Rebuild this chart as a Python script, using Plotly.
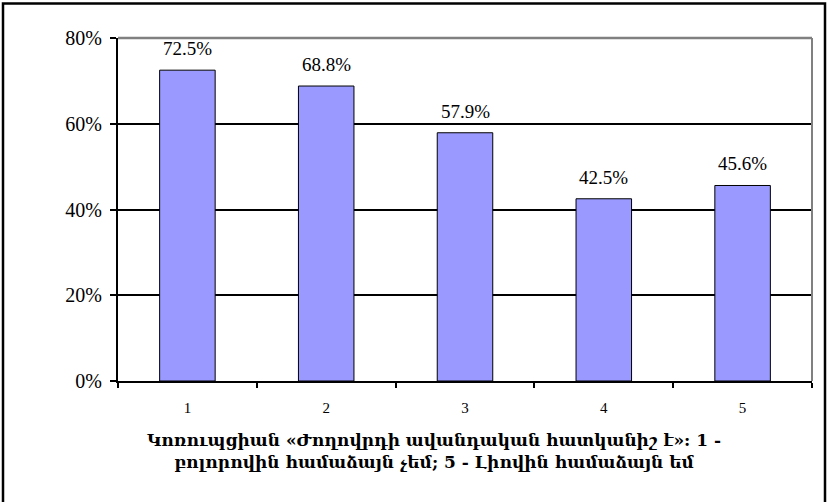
import plotly.graph_objects as go

categories = ["1", "2", "3", "4", "5"]
values = [72.5, 68.8, 57.9, 42.5, 45.6]
y_ticks = [0, 20, 40, 60, 80]
y_tick_labels = ["0%", "20%", "40%", "60%", "80%"]
x_title = ("Կոռուպցիան «Ժողովրդի ավանդական հատկանիշ է»: 1 -<br>"
           "բոլորովին համաձայն չեմ; 5 - Լիովին համաձայն եմ")

serif = "Liberation Serif"
arm_serif = "DejaVu Serif"

# plot area in pixels: x 118..812, y 37.5..381.5
def px_x(p):
    return (p - 118) / 694

def px_y(p):
    return (381.5 - p) / 344

fig = go.Figure(
    go.Bar(
        x=categories,
        y=values,
        marker=dict(color="#9999FF", line=dict(color="black", width=1)),
        width=0.4,
        hoverinfo="x+y",
    )
)

# value labels above the bars (category axis -> use the category index)
labels = [
    dict(x=i, y=v, text=f"{v:.1f}%", xref="x", yref="y",
         yanchor="bottom", yshift=9, showarrow=False,
         font=dict(family=serif, size=19, color="black"))
    for i, v in enumerate(values)
]

fig.update_layout(
    width=828,
    height=502,
    margin=dict(l=118, r=16, t=37.5, b=120.5),
    paper_bgcolor="white",
    plot_bgcolor="white",
    font=dict(family=serif, color="black"),
    showlegend=False,
    xaxis=dict(
        type="category",
        range=[-0.5, 4.5],
        automargin=False,
        showline=True,
        linecolor="black",
        linewidth=2,
        ticks="outside",
        tickson="boundaries",
        ticklen=5,
        tickwidth=2,
        tickcolor="black",
        tickfont=dict(family=serif, size=15),
        ticklabelstandoff=12,
        showgrid=False,
    ),
    yaxis=dict(
        automargin=False,
        range=[0, 80],
        tickvals=y_ticks,
        ticktext=y_tick_labels,
        showline=True,
        linecolor="black",
        linewidth=2,
        ticks="outside",
        ticklen=6,
        tickwidth=2,
        tickcolor="black",
        tickfont=dict(family=serif, size=20),
        ticklabelstandoff=4,
        showgrid=True,
        gridcolor="black",
        gridwidth=1.5,
        zeroline=False,
    ),
    shapes=[
        # gray frame of the plot area (top and right)
        dict(type="line", xref="paper", yref="paper", x0=0, x1=1, y0=1, y1=1,
             line=dict(color="#808080", width=2.5)),
        dict(type="line", xref="paper", yref="paper", x0=1, x1=1, y0=0, y1=1,
             line=dict(color="#808080", width=2)),
        # outer border
        dict(type="rect", xref="paper", yref="paper",
             x0=px_x(3), x1=px_x(825), y0=px_y(510), y1=px_y(3),
             line=dict(color="black", width=2.5)),
    ],
    annotations=labels + [
        dict(text=x_title, xref="paper", yref="paper",
             x=px_x(434), y=px_y(429), xanchor="center", yanchor="top",
             showarrow=False,
             font=dict(family=arm_serif, size=17, color="black", weight="bold")),
    ],
)

# drop the default page margin so the figure sits at the window origin
fig.write_html("out.html", config={"displayModeBar": False},
               post_script="document.body.style.margin='0';")
